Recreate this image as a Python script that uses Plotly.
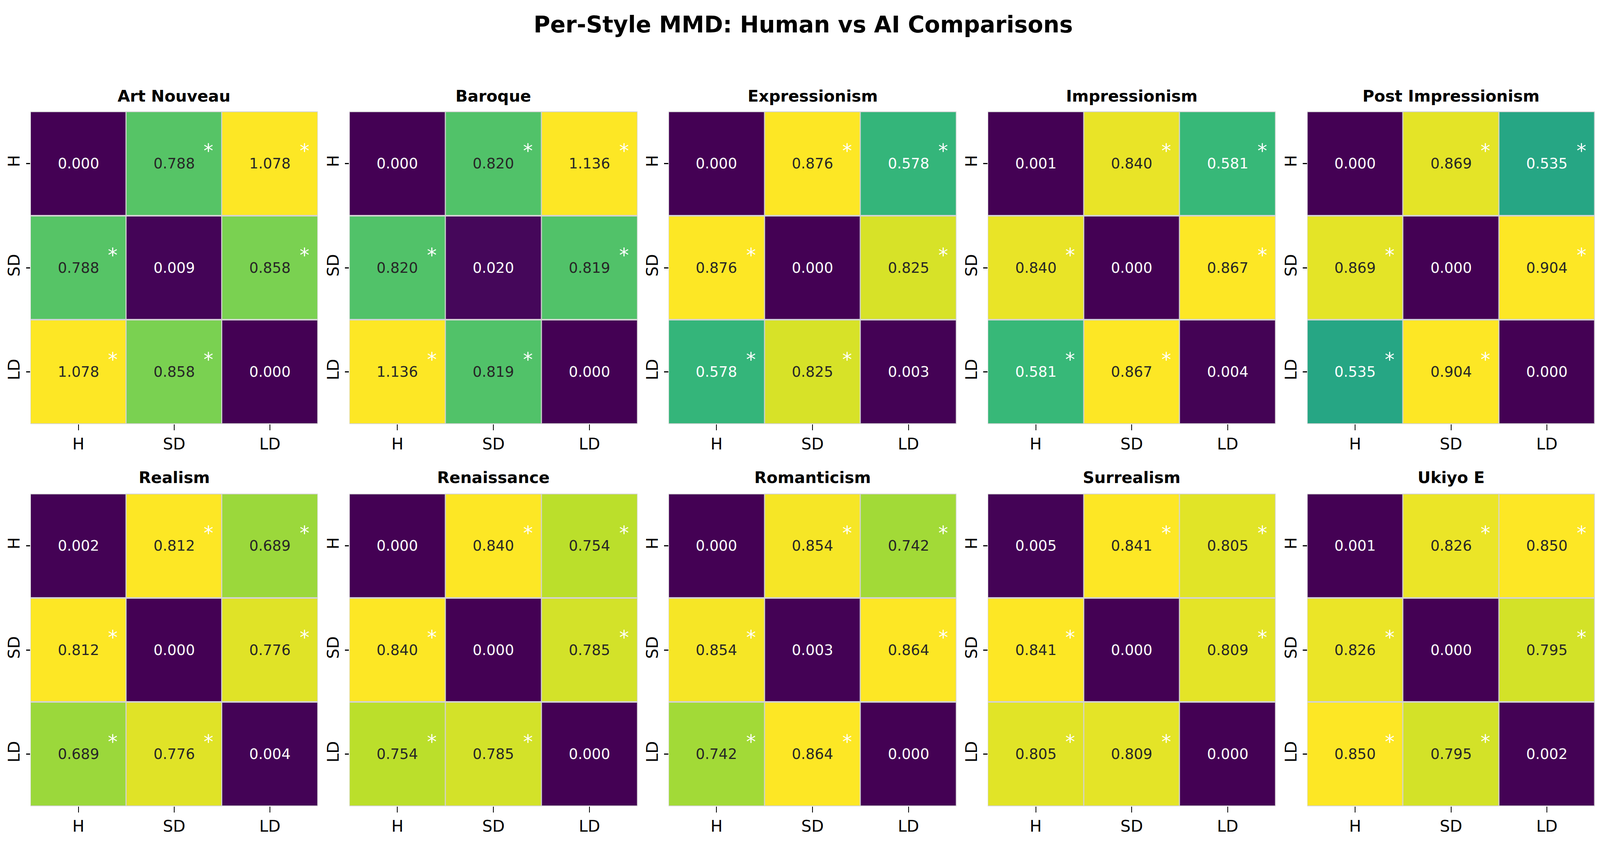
import plotly.graph_objects as go
from plotly.colors import sample_colorscale, hex_to_rgb

# ---------------- data ----------------
styles = ["Art Nouveau", "Baroque", "Expressionism", "Impressionism", "Post Impressionism",
          "Realism", "Renaissance", "Romanticism", "Surrealism", "Ukiyo E"]
labels = ["H", "SD", "LD"]

art_nouveau = [[0.000, 0.788, 1.078], [0.788, 0.009, 0.858], [1.078, 0.858, 0.000]]
baroque = [[0.000, 0.820, 1.136], [0.820, 0.020, 0.819], [1.136, 0.819, 0.000]]
expressionism = [[0.000, 0.876, 0.578], [0.876, 0.000, 0.825], [0.578, 0.825, 0.003]]
impressionism = [[0.001, 0.840, 0.581], [0.840, 0.000, 0.867], [0.581, 0.867, 0.004]]
post_impressionism = [[0.000, 0.869, 0.535], [0.869, 0.000, 0.904], [0.535, 0.904, 0.000]]
realism = [[0.002, 0.812, 0.689], [0.812, 0.000, 0.776], [0.689, 0.776, 0.004]]
renaissance = [[0.000, 0.840, 0.754], [0.840, 0.000, 0.785], [0.754, 0.785, 0.000]]
romanticism = [[0.000, 0.854, 0.742], [0.854, 0.003, 0.864], [0.742, 0.864, 0.000]]
surrealism = [[0.005, 0.841, 0.805], [0.841, 0.000, 0.809], [0.805, 0.809, 0.000]]
ukiyo_e = [[0.001, 0.826, 0.850], [0.826, 0.000, 0.795], [0.850, 0.795, 0.002]]

matrices = [art_nouveau, baroque, expressionism, impressionism, post_impressionism,
            realism, renaissance, romanticism, surrealism, ukiyo_e]

# significance flags (True = star shown)
significant = [[False, True, True], [True, False, True], [True, True, False]]

# ---------------- layout geometry ----------------
# reference pixel frame
W, H = 5970, 2157
# visible page area is 4096 x 2157 CSS px -> fill it
FW, FH = 4096, 2157
SX = FW / W

col_px = [(102, 1174), (1292, 2367), (2483, 3557), (3674, 4748), (4866, 5939)]
row_px = [(277, 1077), (1255, 2055)]
title_y_px = [238, 1214]
FONT = "DejaVu Sans"
VIRIDIS = "Viridis"


def lum(rgb):
    out = []
    for c in rgb:
        c = c / 255.0
        out.append(c / 12.92 if c <= 0.03928 else ((c + 0.055) / 1.055) ** 2.4)
    return 0.2126 * out[0] + 0.7152 * out[1] + 0.0722 * out[2]


def parse_rgb(s):
    if s.startswith("#"):
        return hex_to_rgb(s)
    s = s[s.index("(") + 1:s.index(")")]
    return tuple(float(v) for v in s.split(",")[:3])


fig = go.Figure()
annotations = []
layout_axes = {}

for k, (name, z) in enumerate(zip(styles, matrices)):
    r, c = divmod(k, 5)
    idx = k + 1
    xs = "" if idx == 1 else str(idx)
    zmax = max(max(row) for row in z)
    fig.add_trace(go.Heatmap(
        z=z, x=[0, 1, 2], y=[0, 1, 2],
        colorscale=VIRIDIS, zmin=0, zmax=zmax, showscale=False,
        xgap=4 * SX, ygap=4, hoverinfo="skip",
        xaxis="x" + xs, yaxis="y" + xs,
    ))
    x0, x1 = col_px[c]
    y0, y1 = row_px[r]
    common = dict(
        tickmode="array", tickvals=[0, 1, 2], ticktext=labels,
        ticks="outside", tickcolor="black",
        showgrid=False, zeroline=False, showline=False,
        tickfont=dict(family=FONT, size=41, color="black"), fixedrange=True,
    )
    layout_axes["xaxis" + xs] = dict(
        domain=[x0 / W, x1 / W], anchor="y" + xs, range=[-0.5, 2.5],
        ticklen=15, tickwidth=3.3 * SX, **common)
    layout_axes["yaxis" + xs] = dict(
        domain=[1 - y1 / H, 1 - y0 / H], anchor="x" + xs, range=[2.5, -0.5],
        tickangle=-90, ticklen=15 * SX, tickwidth=3.3, **common)
    # subplot title
    annotations.append(dict(
        text="<b>%s</b>" % name, x=(x0 + x1) / 2 / W, y=1 - title_y_px[r] / H,
        xref="paper", yref="paper", xanchor="center", yanchor="middle",
        showarrow=False, font=dict(family=FONT, size=41, color="black"),
    ))
    for i in range(3):
        for j in range(3):
            v = z[i][j]
            col = sample_colorscale(VIRIDIS, [v / zmax])[0]
            tcol = "#262626" if lum(parse_rgb(col)) > 0.408 else "#ffffff"
            annotations.append(dict(
                text="%.3f" % v, x=j, y=i, xref="x" + xs, yref="y" + xs,
                xanchor="center", yanchor="middle", showarrow=False,
                font=dict(family=FONT, size=37, color=tcol),
            ))
            if significant[i][j]:
                annotations.append(dict(
                    text="*", x=j + 0.36, y=i - 0.12, xref="x" + xs, yref="y" + xs,
                    xanchor="center", yanchor="middle", showarrow=False,
                    font=dict(family=FONT, size=50, color="white"),
                ))

annotations.append(dict(
    text="<b>Per-Style MMD: Human vs AI Comparisons</b>", x=0.5, y=1 - 55 / H,
    xref="paper", yref="paper", xanchor="center", yanchor="middle", showarrow=False,
    font=dict(family=FONT, size=58, color="black"),
))

fig.update_layout(
    width=FW, height=FH, margin=dict(l=0, r=0, t=0, b=0),
    paper_bgcolor="white", plot_bgcolor="#d3d3d3",
    showlegend=False, annotations=annotations, **layout_axes,
)

fig.write_html("out.html")
